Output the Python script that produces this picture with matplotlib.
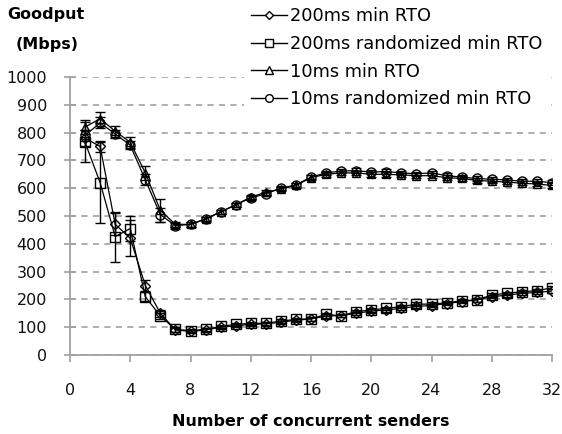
import matplotlib
matplotlib.use("Agg")
import matplotlib.pyplot as plt
from matplotlib.lines import Line2D

senders = list(range(1, 33))

rto200 = [780, 750, 470, 420, 250, 150, 90, 85, 90, 100, 105, 110, 112, 118, 125, 130,
          140, 142, 150, 158, 162, 168, 175, 178, 185, 192, 198, 210, 215, 222, 225, 230]
rto200_err = [30, 20, 40, 65, 20, 12, 8, 6, 6, 6, 6, 6, 6, 6, 6, 6,
              6, 6, 6, 6, 6, 6, 6, 6, 6, 6, 6, 6, 6, 6, 6, 6]

rto200r = [765, 620, 426, 455, 210, 140, 92, 88, 92, 103, 110, 114, 114, 122, 128, 130,
           146, 141, 156, 162, 168, 174, 183, 183, 188, 195, 198, 216, 222, 228, 231, 242]
rto200r_err = [72, 145, 90, 45, 15, 10, 8, 6, 6, 6, 6, 6, 6, 6, 6, 6,
               6, 6, 6, 6, 6, 6, 6, 6, 6, 6, 6, 6, 6, 6, 6, 6]

rto10 = [820, 850, 805, 765, 655, 520, 470, 470, 490, 515, 540, 568, 585, 597, 610, 638,
         650, 655, 655, 650, 650, 648, 645, 645, 638, 635, 628, 625, 622, 618, 615, 610]
rto10_err = [25, 25, 20, 20, 25, 40, 10, 8, 8, 8, 8, 8, 8, 8, 8, 8,
             8, 8, 8, 8, 8, 8, 8, 8, 8, 8, 8, 8, 8, 8, 8, 8]

rto10r = [790, 835, 795, 755, 630, 505, 465, 470, 488, 515, 540, 565, 580, 600, 612, 640,
          655, 662, 663, 658, 660, 655, 652, 655, 645, 640, 635, 632, 630, 625, 625, 620]
rto10r_err = [20, 20, 15, 15, 20, 25, 10, 8, 8, 8, 8, 8, 8, 8, 8, 8,
              8, 8, 8, 8, 8, 8, 8, 8, 8, 8, 8, 8, 8, 8, 8, 8]

labels = ["200ms min RTO", "200ms randomized min RTO", "10ms min RTO", "10ms randomized min RTO"]
markers = ["D", "s", "^", "o"]
msizes = [5, 7, 6, 6.5]

plt.rcParams['font.family'] = ['DejaVu Sans']

fig = plt.figure(figsize=(5.62, 4.34), dpi=100)
ax = fig.add_axes([70 / 562, 1 - 355 / 434, (552 - 70) / 562, (355 - 77) / 434])

series = [(rto200, rto200_err), (rto200r, rto200r_err), (rto10, rto10_err), (rto10r, rto10r_err)]
for (vals, errs), m, ms in zip(series, markers, msizes):
    ax.errorbar(senders, vals, yerr=errs, color="black", lw=0.9, marker=m, ms=ms,
                mfc="none", mec="black", mew=1.0, capsize=3.5, elinewidth=1.0,
                ecolor="black", zorder=3)

ax.set_xlim(0, 32)
ax.set_ylim(0, 1000)
ax.set_xticks(range(0, 33, 4))
ax.set_yticks(range(0, 1001, 100))
ax.yaxis.grid(True, linestyle=(0, (4, 3.5)), color="#999999", lw=1.1)
ax.set_axisbelow(True)
for s in ["top", "right"]:
    ax.spines[s].set_visible(False)
for s in ["left", "bottom"]:
    ax.spines[s].set_color("#a0a0a0")
    ax.spines[s].set_linewidth(1.3)
ax.tick_params(axis="y", direction="inout", length=9, width=1.2, color="#a0a0a0",
               labelsize=11.5, pad=12, labelcolor="#111111")
ax.tick_params(axis="x", direction="out", length=5, width=1.2, color="#a0a0a0",
               labelsize=11.5, pad=15, labelcolor="#111111")
ax.set_xlabel("Number of concurrent senders", fontsize=11.5, fontweight="bold", labelpad=12)

fig.text(46 / 562, 1 - 15 / 434, "Goodput", ha="center", va="center", fontsize=11.5, fontweight="bold")
fig.text(47 / 562, 1 - 44 / 434, "(Mbps)", ha="center", va="center", fontsize=11.5, fontweight="bold")

handles = [Line2D([0], [0], color="black", lw=1.0, marker=m, ms=ms * 0.85, mfc="white", mec="black")
           for m, ms in zip(markers, msizes)]
leg = fig.legend(handles, labels, loc="upper left", bbox_to_anchor=(244 / 562, 1 - 0 / 434),
                 fontsize=12.8, frameon=True, facecolor="white", edgecolor="none", framealpha=1,
                 fancybox=False, handlelength=2.0, handletextpad=0.2, labelspacing=0.55,
                 borderpad=0.4, borderaxespad=0)

fig.savefig("out.png", dpi=100)
